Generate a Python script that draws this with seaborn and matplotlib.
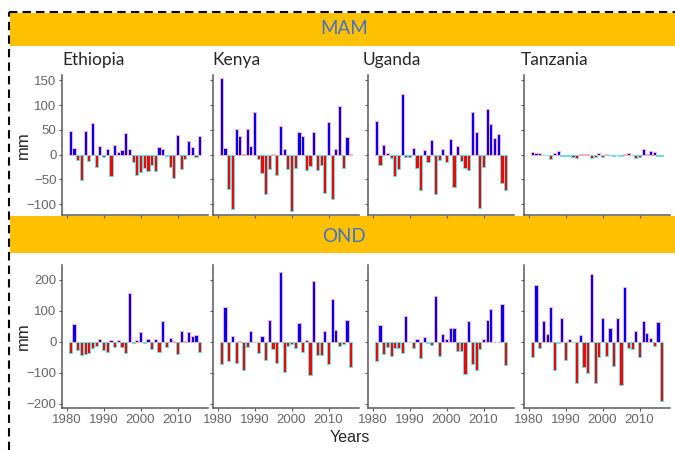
import matplotlib
matplotlib.use('Agg')
import matplotlib.pyplot as plt
import pandas as pd
import seaborn as sns
from matplotlib.patches import Rectangle
from matplotlib.lines import Line2D

# Rainfall anomalies (mm), 1981-2016
years = list(range(1981, 2017))
countries = ['Ethiopia', 'Kenya', 'Uganda', 'Tanzania']

mam_ethiopia = [47, 14, -10, -51, 47, -12, 64, -25, 18, -5, 12, -44, 19, 6, 10, 44, 11, -15,
                -42, -35, -28, -34, -20, -33, 15, 11, -2, -25, -48, 40, -30, -8, 27, 16, -4, 38]
mam_kenya = [155, 14, -70, -110, 52, 38, 1, 51, 17, 86, -8, -38, -80, -29, 1, -42, 57, 11,
             -30, -113, -27, 45, 37, -32, -23, 45, -31, -21, -77, 67, -89, 12, 99, -27, 35, 2]
mam_uganda = [69, -21, 20, 3, -7, -43, -29, 123, -5, -5, 13, -27, -71, 10, -14, 29, -80, -10,
              12, -14, 31, -65, 17, -13, -28, -32, 86, 45, -107, -25, 92, 61, 34, 42, -58, -71]
mam_tanzania = [5, 3, 3, -1, -1, -8, 4, 8, -2, -3, -3, -5, -7, 0.5, 1, 1, -7, -4,
                3, -5, 1, -1, -2, -1, -3, 0.5, 3, -0.5, -7, -5, 11, 0.5, 8, 6, -2, -3]

ond_ethiopia = [-35, 56, -25, -42, -40, -37, -20, -15, 10, -27, -32, 7, -17, 5, -17, -37, 157, -5,
                7, 30, -5, 10, -22, 8, -32, 68, -17, 12, 2, -40, 35, 1, 33, 20, 22, -32]
ond_kenya = [-72, 113, -63, 20, -67, 2, -90, -16, 36, 0.5, -37, 20, -60, 71, -24, -67, 225, -98,
             -14, -8, -21, 61, -32, 7, -108, 197, -42, -41, 36, -70, 139, 39, -14, -8, 70, -82]
ond_uganda = [-63, 55, -38, -17, -47, -19, -21, -35, 84, 0.5, -19, 10, -51, 17, -3, -10, 146, -47,
              25, 9, 44, 44, -29, -29, -105, 67, -72, -90, -24, 10, 70, 104, 0.5, -2, 121, -74]
ond_tanzania = [-50, 183, -19, 67, 25, 113, -90, -5, 78, -57, 10, 0.5, -133, 23, -80, -101, 218, -133,
                -50, 78, -47, 43, -77, 76, -138, 176, -21, -24, 36, -48, 68, 27, 13, -14, 63, -190]

mam = [mam_ethiopia, mam_kenya, mam_uganda, mam_tanzania]
ond = [ond_ethiopia, ond_kenya, ond_uganda, ond_tanzania]

sns.set_style('white')
plt.rcParams['font.family'] = ['Liberation Sans', 'DejaVu Sans']

W, H = 675, 450
fig = plt.figure(figsize=(6.75, 4.5), dpi=100)


def px_box(x0, y0, x1, y1):
    return [x0 / W, 1 - y1 / H, (x1 - x0) / W, (y1 - y0) / H]


# orange season banners
for y0, y1, label, yc in [(13, 46, 'MAM', 29), (216, 253, 'OND', 236)]:
    fig.add_artist(Rectangle((10 / W, 1 - y1 / H), (W - 10) / W, (y1 - y0) / H,
                             transform=fig.transFigure, facecolor='#FFC000',
                             edgecolor='none', zorder=0))
    fig.text(344 / W, 1 - yc / H, label, color='#4472C4', fontsize=13.5,
             family=['Lato', 'DejaVu Sans'], ha='center', va='center')

lefts = [62, 213, 368, 524]
title_x = [62, 212, 363, 521]
pos_col, neg_col = '#0000FF', '#FF0000'
pos_edge, neg_edge = '#FFB4B4', '#66E2E2'
grey = '#5A5A5A'


def draw_panel(ax, vals, ylim, yticks, show_ylab, show_xlab):
    df = pd.DataFrame({'year': years, 'mm': vals})
    sns.barplot(data=df, x='year', y='mm', native_scale=True, color=pos_col,
                width=0.85, errorbar=None, ax=ax)
    for p in ax.patches:
        up = p.get_height() >= 0
        p.set_facecolor(pos_col if up else neg_col)
        p.set_edgecolor(pos_edge if up else neg_edge)
        p.set_linewidth(0.7)
    ax.set_xlim(1978.75, 2018.25)
    ax.set_ylim(*ylim)
    ax.set_xticks([1980, 1990, 2000, 2010])
    ax.set_yticks(yticks)
    ax.set_facecolor('none')
    ax.set_xlabel('')
    ax.set_ylabel('')
    for s in ['top', 'right']:
        ax.spines[s].set_visible(False)
    for s in ['left', 'bottom']:
        ax.spines[s].set_color(grey)
        ax.spines[s].set_linewidth(1.1)
    ax.tick_params(axis='both', length=2.5, width=0.8, color=grey, labelcolor='#666666',
                   labelsize=9.5, pad=1.5, direction='out', bottom=True, left=True)
    if not show_ylab:
        ax.set_yticklabels([])
    if not show_xlab:
        ax.set_xticklabels([])


for i in range(4):
    ax = fig.add_axes(px_box(lefts[i], 75, lefts[i] + 146, 215))
    draw_panel(ax, mam[i], (-122, 161), [-100, -50, 0, 50, 100, 150], i == 0, False)
    fig.text(title_x[i] / W, 1 - 60 / H, countries[i], fontsize=12.5,
             family=['Lato', 'DejaVu Sans'], ha='left', va='center')

    ax = fig.add_axes(px_box(lefts[i], 265, lefts[i] + 146, 408))
    draw_panel(ax, ond[i], (-213, 247), [-200, -100, 0, 100, 200], i == 0, True)

fig.text(23 / W, 1 - 145 / H, 'mm', rotation=90, fontsize=12, ha='center', va='center')
fig.text(23 / W, 1 - 336 / H, 'mm', rotation=90, fontsize=12, ha='center', va='center')
fig.text(350 / W, 1 - 438 / H, 'Years', fontsize=11.5, ha='center', va='center')

# dashed frame
dash = (0, (4, 2.5))
fig.add_artist(Line2D([9 / W, 9 / W], [0, 1 - 12 / H], color='black', lw=1.5,
                      linestyle=dash, transform=fig.transFigure, zorder=10))
fig.add_artist(Line2D([9 / W, 1], [1 - 12 / H, 1 - 12 / H], color='black', lw=1.5,
                      linestyle=dash, transform=fig.transFigure, zorder=10))

fig.savefig('out.png', dpi=100)
